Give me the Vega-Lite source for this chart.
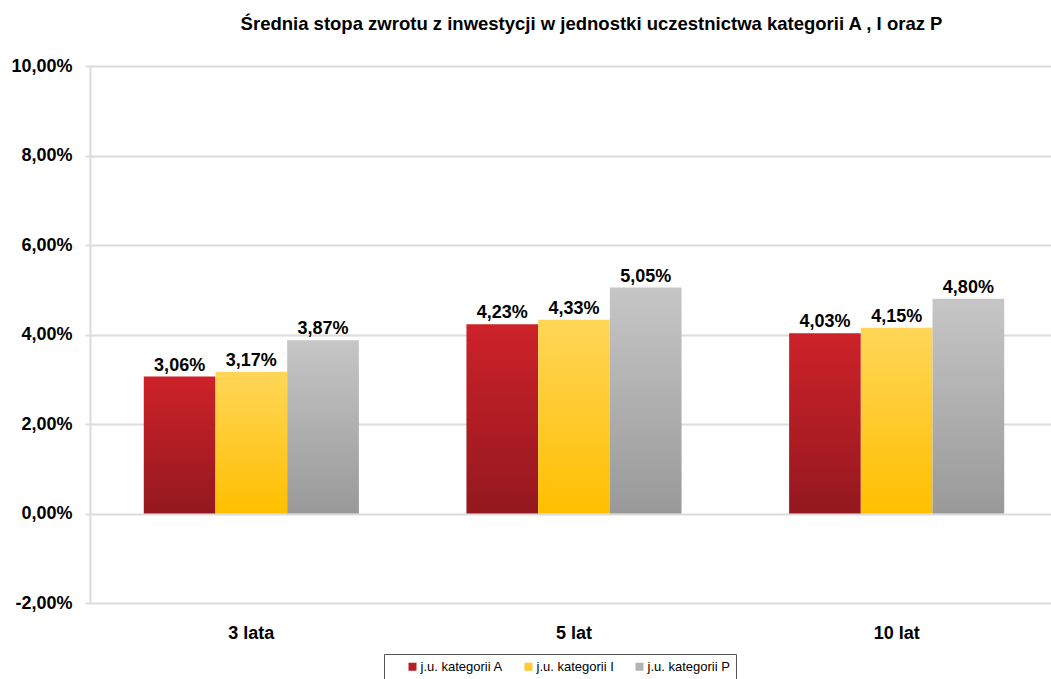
{
  "$schema": "https://vega.github.io/schema/vega-lite/v6.json",
  "width": 961,
  "height": 537,
  "autosize": {"type": "none"},
  "padding": {"left": 90, "top": 66, "right": 0, "bottom": 76},
  "background": "white",
  "config": {
    "locale": {"number": {"decimal": ",", "thousands": " ", "grouping": [3], "currency": ["", " zł"], "minus": "-"}},
    "view": {"stroke": null},
    "font": "Liberation Sans"
  },
  "title": {
    "text": "Średnia stopa zwrotu z inwestycji w jednostki uczestnictwa kategorii A , I oraz P",
    "fontSize": 18.5,
    "fontWeight": "bold",
    "color": "black",
    "anchor": "middle",
    "dx": 21,
    "offset": 24
  },
  "data": {
    "values": [
      {"okres": "3 lata", "kategoria": "j.u. kategorii A", "wartosc": 0.0306},
      {"okres": "3 lata", "kategoria": "j.u. kategorii I", "wartosc": 0.0317},
      {"okres": "3 lata", "kategoria": "j.u. kategorii P", "wartosc": 0.0387},
      {"okres": "5 lat", "kategoria": "j.u. kategorii A", "wartosc": 0.0423},
      {"okres": "5 lat", "kategoria": "j.u. kategorii I", "wartosc": 0.0433},
      {"okres": "5 lat", "kategoria": "j.u. kategorii P", "wartosc": 0.0505},
      {"okres": "10 lat", "kategoria": "j.u. kategorii A", "wartosc": 0.0403},
      {"okres": "10 lat", "kategoria": "j.u. kategorii I", "wartosc": 0.0415},
      {"okres": "10 lat", "kategoria": "j.u. kategorii P", "wartosc": 0.048}
    ]
  },
  "encoding": {
    "x": {
      "field": "okres",
      "type": "nominal",
      "sort": ["3 lata", "5 lat", "10 lat"],
      "scale": {"paddingInner": 0, "paddingOuter": 0, "range": [0, 968]},
      "axis": {
        "title": null,
        "labelAngle": 0,
        "ticks": false,
        "domain": false,
        "grid": false,
        "labelFontSize": 18,
        "labelFontWeight": "bold",
        "labelColor": "black",
        "labelPadding": 21
      }
    },
    "xOffset": {
      "field": "kategoria",
      "type": "nominal",
      "scale": {"paddingInner": 0, "paddingOuter": 0.75}
    },
    "y": {
      "field": "wartosc",
      "type": "quantitative",
      "scale": {"domain": [-0.02, 0.1], "nice": false},
      "axis": {
        "title": null,
        "format": ".2%",
        "values": [-0.02, 0, 0.02, 0.04, 0.06, 0.08, 0.1],
        "gridColor": "#dcdcdc",
        "gridWidth": 2,
        "domainColor": "#dcdcdc",
        "domainWidth": 2,
        "tickColor": "#dcdcdc",
        "tickWidth": 2,
        "tickSize": 5,
        "labelFontSize": 18,
        "labelFontWeight": "bold",
        "labelColor": "black",
        "labelPadding": 13
      }
    }
  },
  "layer": [
    {
      "mark": {"type": "bar"},
      "encoding": {
        "fill": {
          "field": "kategoria",
          "type": "nominal",
          "scale": {
            "domain": ["j.u. kategorii A", "j.u. kategorii I", "j.u. kategorii P"],
            "range": ["#b81e25", "#ffcb30", "#b4b4b4"]
          },
          "condition": [
            {"test": "datum.kategoria === 'j.u. kategorii A'", "value": {"gradient": "linear", "x1": 0, "y1": 0, "x2": 0, "y2": 1, "stops": [{"offset": 0, "color": "#cd2229"}, {"offset": 1, "color": "#94181f"}]}},
            {"test": "datum.kategoria === 'j.u. kategorii I'", "value": {"gradient": "linear", "x1": 0, "y1": 0, "x2": 0, "y2": 1, "stops": [{"offset": 0, "color": "#ffd658"}, {"offset": 1, "color": "#ffbf00"}]}},
            {"test": "datum.kategoria === 'j.u. kategorii P'", "value": {"gradient": "linear", "x1": 0, "y1": 0, "x2": 0, "y2": 1, "stops": [{"offset": 0, "color": "#c6c6c6"}, {"offset": 1, "color": "#999999"}]}}
          ],
          "legend": {
            "title": null,
            "orient": "none",
            "legendX": 294,
            "legendY": 588,
            "direction": "horizontal",
            "strokeColor": "#555555",
            "padding": 6,
            "symbolType": "square",
            "symbolSize": 64,
            "symbolStrokeWidth": 0,
            "symbolOffset": 16,
            "labelFontSize": 13,
            "labelColor": "black",
            "labelOffset": 1.5,
            "labelExpr": "datum.label + '\u00a0\u00a0\u00a0\u00a0'",
            "columnPadding": 3
          }
        }
      }
    },
    {
      "mark": {"type": "text", "dy": -6, "fontSize": 18, "fontWeight": "bold", "color": "black", "baseline": "alphabetic"},
      "encoding": {
        "text": {"field": "wartosc", "type": "quantitative", "format": ".2%"}
      }
    }
  ]
}
